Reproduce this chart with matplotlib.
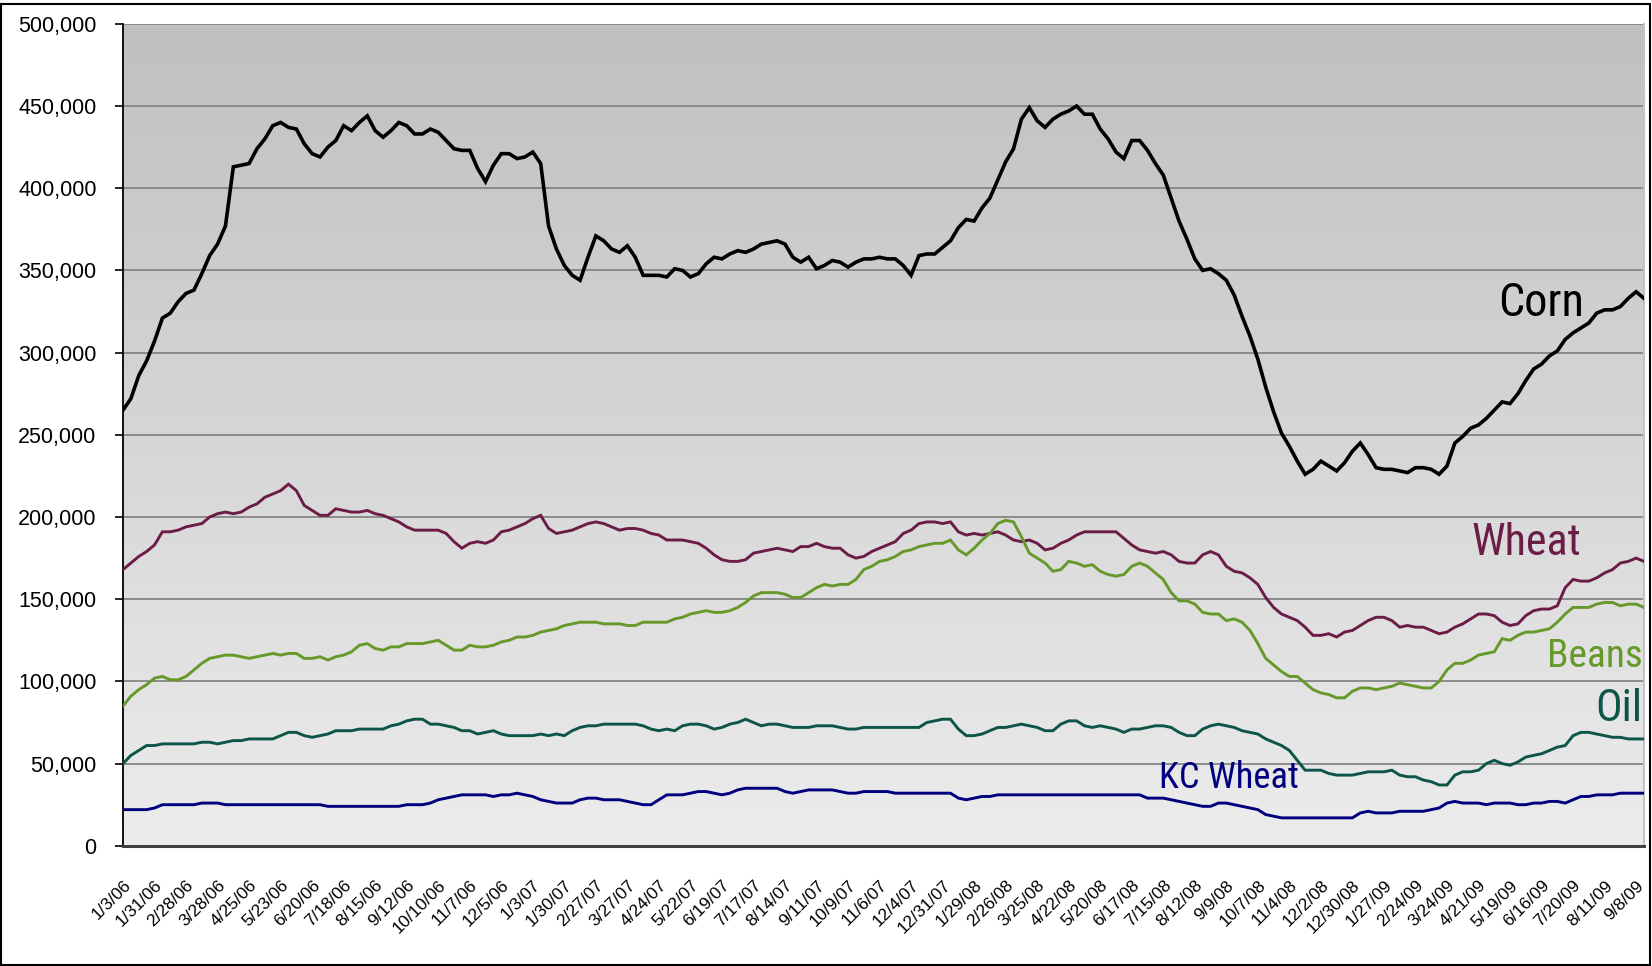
import matplotlib
matplotlib.use("Agg")
import matplotlib.pyplot as plt
import numpy as np
from matplotlib.patches import Rectangle
from matplotlib.colors import LinearSegmentedColormap
from matplotlib import font_manager as fm

# ---------------- data (thousands of contracts, weekly) ----------------
corn = [265, 272, 286, 295, 307, 321, 324, 331, 336, 338,
        348, 359, 366, 377, 413, 414, 415, 424, 430, 438,
        440, 437, 436, 427, 421, 419, 425, 429, 438, 435,
        440, 444, 435, 431, 435, 440, 438, 433, 433, 436,
        434, 429, 424, 423, 423, 412, 404, 414, 421, 421,
        418, 419, 422, 415, 377, 363, 353, 347, 344, 358,
        371, 368, 363, 361, 365, 358, 347, 347, 347, 346,
        351, 350, 346, 348, 354, 358, 357, 360, 362, 361,
        363, 366, 367, 368, 366, 358, 355, 358, 351, 353,
        356, 355, 352, 355, 357, 357, 358, 357, 357, 353,
        347, 359, 360, 360, 364, 368, 376, 381, 380, 388,
        394, 405, 416, 424, 442, 449, 441, 437, 442, 445,
        447, 450, 445, 445, 436, 430, 422, 418, 429, 429,
        423, 415, 408, 394, 380, 369, 357, 350, 351, 348,
        344, 335, 322, 310, 296, 279, 264, 251, 243, 234,
        226, 229, 234, 231, 228, 233, 240, 245, 238, 230,
        229, 229, 228, 227, 230, 230, 229, 226, 231, 245,
        249, 254, 256, 260, 265, 270, 269, 275, 283, 290,
        293, 298, 301, 308, 312, 315, 318, 324, 326, 326,
        328, 333, 337, 333]

wheat = [168, 172, 176, 179, 183, 191, 191, 192, 194, 195,
         196, 200, 202, 203, 202, 203, 206, 208, 212, 214,
         216, 220, 216, 207, 204, 201, 201, 205, 204, 203,
         203, 204, 202, 201, 199, 197, 194, 192, 192, 192,
         192, 190, 185, 181, 184, 185, 184, 186, 191, 192,
         194, 196, 199, 201, 193, 190, 191, 192, 194, 196,
         197, 196, 194, 192, 193, 193, 192, 190, 189, 186,
         186, 186, 185, 184, 181, 177, 174, 173, 173, 174,
         178, 179, 180, 181, 180, 179, 182, 182, 184, 182,
         181, 181, 177, 175, 176, 179, 181, 183, 185, 190,
         192, 196, 197, 197, 196, 197, 191, 189, 190, 189,
         190, 191, 189, 186, 185, 186, 184, 180, 181, 184,
         186, 189, 191, 191, 191, 191, 191, 187, 183, 180,
         179, 178, 179, 177, 173, 172, 172, 177, 179, 177,
         170, 167, 166, 163, 159, 151, 145, 141, 139, 137,
         133, 128, 128, 129, 127, 130, 131, 134, 137, 139,
         139, 137, 133, 134, 133, 133, 131, 129, 130, 133,
         135, 138, 141, 141, 140, 136, 134, 135, 140, 143,
         144, 144, 146, 157, 162, 161, 161, 163, 166, 168,
         172, 173, 175, 173]

beans = [85, 91, 95, 98, 102, 103, 101, 101, 103, 107,
         111, 114, 115, 116, 116, 115, 114, 115, 116, 117,
         116, 117, 117, 114, 114, 115, 113, 115, 116, 118,
         122, 123, 120, 119, 121, 121, 123, 123, 123, 124,
         125, 122, 119, 119, 122, 121, 121, 122, 124, 125,
         127, 127, 128, 130, 131, 132, 134, 135, 136, 136,
         136, 135, 135, 135, 134, 134, 136, 136, 136, 136,
         138, 139, 141, 142, 143, 142, 142, 143, 145, 148,
         152, 154, 154, 154, 153, 151, 151, 154, 157, 159,
         158, 159, 159, 162, 168, 170, 173, 174, 176, 179,
         180, 182, 183, 184, 184, 186, 180, 177, 181, 186,
         190, 196, 198, 197, 188, 178, 175, 172, 167, 168,
         173, 172, 170, 171, 167, 165, 164, 165, 170, 172,
         170, 166, 162, 154, 149, 149, 147, 142, 141, 141,
         137, 138, 136, 131, 123, 114, 110, 106, 103, 103,
         99, 95, 93, 92, 90, 90, 94, 96, 96, 95,
         96, 97, 99, 98, 97, 96, 96, 100, 107, 111,
         111, 113, 116, 117, 118, 126, 125, 128, 130, 130,
         131, 132, 136, 141, 145, 145, 145, 147, 148, 148,
         146, 147, 147, 145]

oil = [50, 55, 58, 61, 61, 62, 62, 62, 62, 62,
       63, 63, 62, 63, 64, 64, 65, 65, 65, 65,
       67, 69, 69, 67, 66, 67, 68, 70, 70, 70,
       71, 71, 71, 71, 73, 74, 76, 77, 77, 74,
       74, 73, 72, 70, 70, 68, 69, 70, 68, 67,
       67, 67, 67, 68, 67, 68, 67, 70, 72, 73,
       73, 74, 74, 74, 74, 74, 73, 71, 70, 71,
       70, 73, 74, 74, 73, 71, 72, 74, 75, 77,
       75, 73, 74, 74, 73, 72, 72, 72, 73, 73,
       73, 72, 71, 71, 72, 72, 72, 72, 72, 72,
       72, 72, 75, 76, 77, 77, 71, 67, 67, 68,
       70, 72, 72, 73, 74, 73, 72, 70, 70, 74,
       76, 76, 73, 72, 73, 72, 71, 69, 71, 71,
       72, 73, 73, 72, 69, 67, 67, 71, 73, 74,
       73, 72, 70, 69, 68, 65, 63, 61, 58, 52,
       46, 46, 46, 44, 43, 43, 43, 44, 45, 45,
       45, 46, 43, 42, 42, 40, 39, 37, 37, 43,
       45, 45, 46, 50, 52, 50, 49, 51, 54, 55,
       56, 58, 60, 61, 67, 69, 69, 68, 67, 66,
       66, 65, 65, 65]

kc_wheat = [22, 22, 22, 22, 23, 25, 25, 25, 25, 25,
            26, 26, 26, 25, 25, 25, 25, 25, 25, 25,
            25, 25, 25, 25, 25, 25, 24, 24, 24, 24,
            24, 24, 24, 24, 24, 24, 25, 25, 25, 26,
            28, 29, 30, 31, 31, 31, 31, 30, 31, 31,
            32, 31, 30, 28, 27, 26, 26, 26, 28, 29,
            29, 28, 28, 28, 27, 26, 25, 25, 28, 31,
            31, 31, 32, 33, 33, 32, 31, 32, 34, 35,
            35, 35, 35, 35, 33, 32, 33, 34, 34, 34,
            34, 33, 32, 32, 33, 33, 33, 33, 32, 32,
            32, 32, 32, 32, 32, 32, 29, 28, 29, 30,
            30, 31, 31, 31, 31, 31, 31, 31, 31, 31,
            31, 31, 31, 31, 31, 31, 31, 31, 31, 31,
            29, 29, 29, 28, 27, 26, 25, 24, 24, 26,
            26, 25, 24, 23, 22, 19, 18, 17, 17, 17,
            17, 17, 17, 17, 17, 17, 17, 20, 21, 20,
            20, 20, 21, 21, 21, 21, 22, 23, 26, 27,
            26, 26, 26, 25, 26, 26, 26, 25, 25, 26,
            26, 27, 27, 26, 28, 30, 30, 31, 31, 31,
            32, 32, 32, 32]

date_labels = ["1/3/06", "1/31/06", "2/28/06", "3/28/06", "4/25/06", "5/23/06",
               "6/20/06", "7/18/06", "8/15/06", "9/12/06", "10/10/06", "11/7/06",
               "12/5/06", "1/3/07", "1/30/07", "2/27/07", "3/27/07", "4/24/07",
               "5/22/07", "6/19/07", "7/17/07", "8/14/07", "9/11/07", "10/9/07",
               "11/6/07", "12/4/07", "12/31/07", "1/29/08", "2/26/08", "3/25/08",
               "4/22/08", "5/20/08", "6/17/08", "7/15/08", "8/12/08", "9/9/08",
               "10/7/08", "11/4/08", "12/2/08", "12/30/08", "1/27/09", "2/24/09",
               "3/24/09", "4/21/09", "5/19/09", "6/16/09", "7/20/09", "8/11/09",
               "9/8/09"]

series_names = ["Corn", "Wheat", "Beans", "Oil", "KC Wheat"]
series_values = [corn, wheat, beans, oil, kc_wheat]

# ---------------- style ----------------
colors = {"Corn": "#000000", "Wheat": "#6b1d47", "Beans": "#67992a",
          "Oil": "#0d5548", "KC Wheat": "#00007f"}
widths = {"Corn": 2.6, "Wheat": 2.1, "Beans": 2.1, "Oil": 2.1, "KC Wheat": 2.1}
# in-chart name labels: (x index, value, horizontal alignment, target width px)
label_pos = {"Corn": (185.4, 330000, "right", 86),
             "Wheat": (185.0, 184000, "right", 110),
             "Beans": (192.8, 115000, "right", 96),
             "Oil": (192.8, 83500, "right", 47),
             "KC Wheat": (131.5, 41500, "left", 140)}


def pick_narrow_font():
    prefs = ["LiberationSansNarrow-Regular", "ArialNarrow", "RobotoCondensed-Regular",
             "OpenSansCondensed", "DejaVuSansCondensed.ttf"]
    files = [f.fname for f in fm.fontManager.ttflist]
    for p in prefs:
        for fn in files:
            if p.lower() in fn.lower().replace(" ", ""):
                return fm.FontProperties(fname=fn)
    for fn in files:
        low = fn.lower()
        if ("narrow" in low or "condensed" in low) and "bold" not in low \
                and "italic" not in low and "oblique" not in low:
            return fm.FontProperties(fname=fn)
    return fm.FontProperties(family="Liberation Sans")


W, H = 1652, 966
fig = plt.figure(figsize=(W / 100, H / 100), dpi=100)
fig.patch.set_facecolor("white")
ax = fig.add_axes([123 / W, 120.2 / H, 1521 / W, 822 / H])

n = len(corn)
x = np.arange(n)
ax.set_xlim(0, n - 1)
ax.set_ylim(0, 500000)

# gradient plot background
cmap = LinearSegmentedColormap.from_list("bg", ["#c0c0c0", "#ececec"])
ax.imshow(np.linspace(0, 1, 256).reshape(-1, 1), cmap=cmap, aspect="auto",
          extent=[0, n - 1, 0, 500000], origin="upper", zorder=0)

ax.set_yticks(np.arange(0, 500001, 50000))
ax.set_yticklabels([f"{v:,}" for v in range(0, 500001, 50000)],
                   family="Liberation Sans", fontsize=15.5)
ax.yaxis.grid(True, color="#858585", linewidth=1.3, zorder=1)
ax.set_axisbelow(True)

for name, vals in zip(series_names, series_values):
    ax.plot(x, np.array(vals) * 1000, color=colors[name], linewidth=widths[name],
            solid_joinstyle="miter", zorder=3)

narrow = pick_narrow_font()
renderer = fig.canvas.get_renderer()
for name in series_names:
    lx, ly, ha, target = label_pos[name]
    t = ax.text(lx, ly, name, color=colors[name], fontproperties=narrow,
                ha=ha, va="center", zorder=4)
    t.set_fontsize(30)
    w = t.get_window_extent(renderer).width
    t.set_fontsize(min(30 * target / w, 40))

ax.set_xticks(np.arange(0, n - 1, 4))
ax.set_xticklabels(date_labels, rotation=45, ha="right", va="top",
                   rotation_mode="anchor", fontsize=12.5, family="Liberation Sans")
ax.tick_params(axis="x", length=0, pad=23)
ax.tick_params(axis="y", length=6, width=1.2, pad=13, color="black")

ax.spines["left"].set_color("black")
ax.spines["left"].set_linewidth(1.3)
ax.spines["bottom"].set_color("#404040")
ax.spines["bottom"].set_linewidth(2.2)
ax.spines["right"].set_color("#c4c4c4")
ax.spines["right"].set_linewidth(1.5)
ax.spines["top"].set_visible(False)

fig.patches.append(Rectangle((1 / W, 1 / H), 1 - 3 / W, 1 - 5 / H,
                             transform=fig.transFigure, fill=False,
                             edgecolor="black", linewidth=1.5))

fig.savefig("out.png", dpi=100)
